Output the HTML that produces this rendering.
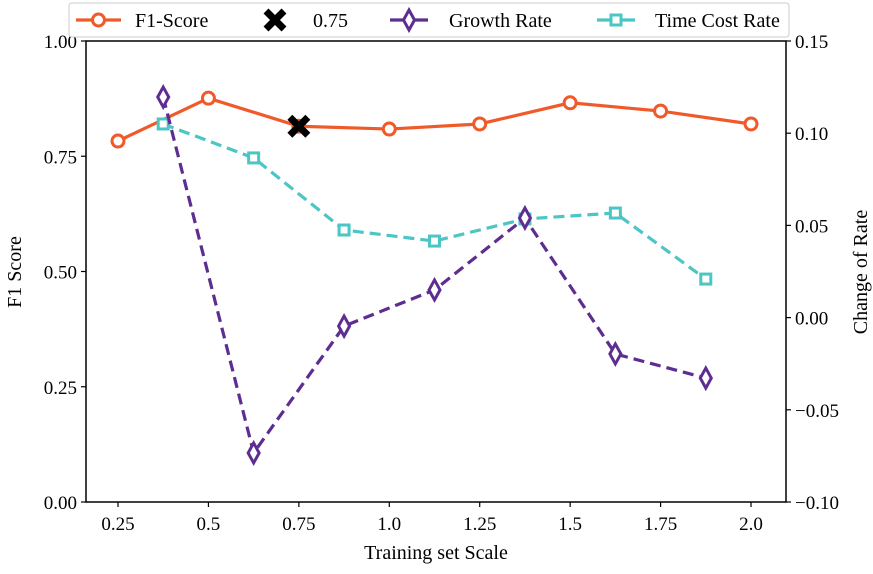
<!DOCTYPE html>
<html><head><meta charset="utf-8"><style>
body{margin:0;background:#fff}
svg text{font-family:"Liberation Serif",serif;fill:#000}
</style></head><body>
<svg id="chart" width="873" height="569" xmlns="http://www.w3.org/2000/svg">
<g>
<rect x="69" y="3" width="720" height="34" rx="3" fill="#fff" stroke="#ccc" stroke-width="1"/>
<g>
<line x1="76" x2="121" y1="20" y2="20" stroke="#f05a2a" stroke-width="3.2"/>
<circle cx="98.5" cy="20" r="6" fill="#fff" stroke="#f05a2a" stroke-width="3"/>
<text x="135" y="27" font-size="20">F1-Score</text></g>
<g>
<path d="M266,11L284,29M284,11L266,29" stroke="#000" stroke-width="7"/>
<text x="313" y="27" font-size="20">0.75</text></g>
<g>
<line x1="390" x2="428" y1="20" y2="20" stroke="#5e2d91" stroke-width="3.2"/>
<polygon points="409,10 414.5,20 409,30 403.5,20" fill="#fff" stroke="#5e2d91" stroke-width="3"/>
<text x="449" y="27" font-size="20">Growth Rate</text></g>
<g>
<line x1="597" x2="635" y1="20" y2="20" stroke="#4cc5c5" stroke-width="3.2"/>
<rect x="611" y="15" width="10" height="10" fill="#fff" stroke="#4cc5c5" stroke-width="3"/>
<text x="655" y="27" font-size="20">Time Cost Rate</text></g>
</g>
</svg>
<script>
const f1X=[0.25,0.5,0.75,1.0,1.25,1.5,1.75,2.0];
const f1Y=[0.783,0.876,0.815,0.809,0.82,0.866,0.848,0.82];
const markX=[0.75];
const markY=[0.815];
const rateX=[0.375,0.625,0.875,1.125,1.375,1.625,1.875];
const growthY=[0.1196,-0.0734,-0.0046,0.015,0.054,-0.0197,-0.0328];
const timeY=[0.105,0.0866,0.0475,0.0415,0.0535,0.0567,0.0209];
const xTicks=[0.25,0.5,0.75,1.0,1.25,1.5,1.75,2.0];
const xTickLabels=["0.25","0.5","0.75","1.0","1.25","1.5","1.75","2.0"];
const yTicks=[0,0.25,0.5,0.75,1.0];
const yTickLabels=["0.00","0.25","0.50","0.75","1.00"];
const y2Ticks=[-0.10,-0.05,0,0.05,0.10,0.15];
const y2TickLabels=["\u22120.10","\u22120.05","0.00","0.05","0.10","0.15"];

const L=86,R=786,T=41,B=502;
const sx=v=>118+(v-0.25)/0.25*90.43;
const sy=v=>B-v*(B-T);
const sy2=v=>T+(0.15-v)/0.25*(B-T);
const svg=document.getElementById('chart');
const legend=svg.querySelector('g');
const NS="http://www.w3.org/2000/svg";
function mk(tag,attrs){const e=document.createElementNS(NS,tag);for(const k in attrs)e.setAttribute(k,attrs[k]);svg.insertBefore(e,legend);return e;}

let ax=mk('rect',{x:L,y:T,width:R-L,height:B-T,fill:'none',stroke:'#000','stroke-width':1.5});


xTicks.forEach((v,i)=>{
  const t=mk('line',{x1:sx(v),x2:sx(v),y1:B,y2:B+5,stroke:'#000','stroke-width':1.2});
  
  
  const l=mk('text',{x:sx(v),y:B+28,'text-anchor':'middle','font-size':19});l.textContent=xTickLabels[i];
  
  
});
yTicks.forEach((v,i)=>{
  const t=mk('line',{x1:L-5,x2:L,y1:sy(v),y2:sy(v),stroke:'#000','stroke-width':1.2});
  
  
  const l=mk('text',{x:L-9,y:sy(v)+7,'text-anchor':'end','font-size':19});l.textContent=yTickLabels[i];
  
  
});
y2Ticks.forEach((v,i)=>{
  const t=mk('line',{x1:R,x2:R+5,y1:sy2(v),y2:sy2(v),stroke:'#000','stroke-width':1.2});
  
  
  const l=mk('text',{x:R+9,y:sy2(v)+7,'text-anchor':'start','font-size':19});l.textContent=y2TickLabels[i];
  
  
});
let xt=mk('text',{x:436,y:559,'text-anchor':'middle','font-size':20});xt.textContent='Training set Scale';


let yt=mk('text',{x:21,y:272,'text-anchor':'middle','font-size':20,transform:'rotate(-90 21 272)'});yt.textContent='F1 Score';


let y2t=mk('text',{x:867,y:272,'text-anchor':'middle','font-size':20,transform:'rotate(-90 867 272)'});y2t.textContent='Change of Rate';



const OR='#f05a2a',PU='#5e2d91',TE='#4cc5c5';
function series(xs,ys,fy,color,dash,marker,name){
  const pts=xs.map((x,i)=>[sx(x),fy(ys[i])]);
  const p=mk('polyline',{points:pts.map(p=>p.join(',')).join(' '),fill:'none',stroke:color,'stroke-width':3.2,'stroke-dasharray':dash||'none'});
  
  
  pts.forEach(([x,y])=>{const m=marker(x,y);
    
    });
}
const circ=(x,y,c)=>mk('circle',{cx:x,cy:y,r:6,fill:'#fff',stroke:c,'stroke-width':3});
const diam=(x,y,c)=>mk('polygon',{points:`${x},${y-10} ${x+5.5},${y} ${x},${y+10} ${x-5.5},${y}`,fill:'#fff',stroke:c,'stroke-width':3});
const sq=(x,y,c)=>mk('rect',{x:x-5,y:y-5,width:10,height:10,fill:'#fff',stroke:c,'stroke-width':3});
const cross=(x,y)=>mk('path',{d:`M${x-9},${y-9}L${x+9},${y+9}M${x+9},${y-9}L${x-9},${y+9}`,stroke:'#000','stroke-width':7});

series(f1X,f1Y,sy,OR,null,(x,y)=>circ(x,y,OR),'f1-score');
series(rateX,timeY,sy2,TE,'11,6',(x,y)=>sq(x,y,TE),'time-cost-rate');
series(rateX,growthY,sy2,PU,'11,6',(x,y)=>diam(x,y,PU),'growth-rate');
markX.forEach((v,i)=>{const m=cross(sx(v),sy(markY[i]));
  
  });
</script>
</body></html>
